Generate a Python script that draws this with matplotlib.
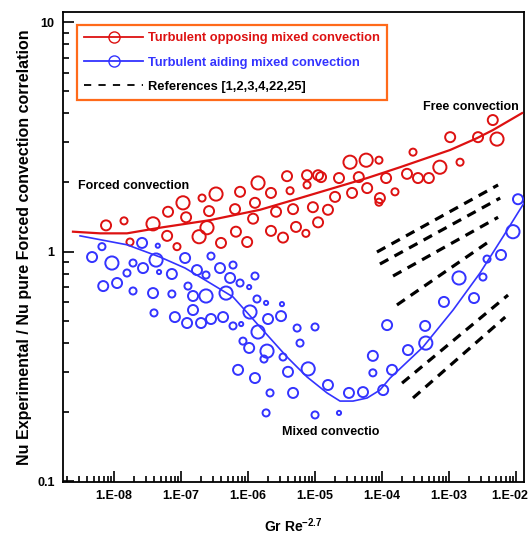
import numpy as np
import matplotlib
matplotlib.use("Agg")
import matplotlib.pyplot as plt
from matplotlib.lines import Line2D
from matplotlib.transforms import ScaledTranslation
from matplotlib.ticker import FixedLocator, FixedFormatter, LogLocator, NullFormatter

plt.rcParams['font.family'] = ['Liberation Sans', 'DejaVu Sans']
plt.rcParams['font.weight'] = 'bold'
plt.rcParams['mathtext.fontset'] = 'custom'
plt.rcParams['mathtext.rm'] = 'Liberation Sans:bold'
plt.rcParams['mathtext.bf'] = 'Liberation Sans:bold'
plt.rcParams['mathtext.default'] = 'bf'

# ---------------------------------------------
#  Turbulent opposing mixed convection (red)
# ---------------------------------------------
red_x = [7.6e-9, 1.41e-8, 1.73e-8, 3.82e-8, 6.4e-8, 6.2e-8, 8.7e-8, 1.07e-7, 1.19e-7, 2.06e-7,
         2.44e-7, 1.86e-7, 2.62e-7, 3.33e-7, 3.95e-7, 6.6e-7, 6.4e-7, 7.6e-7, 9.7e-7, 1.19e-6,
         1.27e-6, 1.41e-6, 2.2e-6, 2.2e-6, 2.62e-6, 3.33e-6, 3.82e-6, 4.24e-6, 4.7e-6, 5.2e-6,
         7.3e-6, 7.6e-6, 7.6e-6, 9.3e-6, 1.11e-5, 1.11e-5, 1.23e-5, 2.28e-5, 3.33e-5, 5.8e-5,
         9.0e-5, 4.5e-5, 6.0e-5, 3.57e-5, 1.15e-4, 2.36e-4, 3.44e-4, 5.0e-4, 7.3e-4, 2.9e-4,
         1.04e-3, 1.46e-3, 1.56e-4, 2.71e-3, 5.2e-3, 4.5e-3, 9.3e-5, 1.99e-5, 9.0e-5, 1.56e-5]
red_y = [1.30, 1.36, 1.10, 1.32, 1.49, 1.17, 1.05, 1.63, 1.41, 1.71,
         1.27, 1.16, 1.50, 1.78, 1.09, 1.22, 1.53, 1.82, 1.10, 1.39,
         1.63, 1.99, 1.23, 1.80, 1.49, 1.15, 2.13, 1.84, 1.53, 1.28,
         1.20, 2.15, 1.95, 1.56, 2.15, 1.34, 2.11, 2.09, 2.45, 2.50,
         2.50, 2.11, 1.89, 1.80, 2.09, 2.18, 2.09, 2.09, 2.33, 2.71,
         3.15, 2.45, 1.82, 3.15, 3.09, 3.74, 1.71, 1.73, 1.64, 1.52]
red_cls = [2, 1, 1, 3, 2, 2, 1, 3, 2, 1,
           3, 3, 2, 3, 2, 2, 2, 2, 2, 2,
           2, 3, 2, 2, 2, 2, 2, 1, 2, 2,
           1, 2, 1, 2, 2, 2, 2, 2, 3, 3,
           1, 2, 2, 2, 2, 2, 2, 2, 3, 1,
           2, 1, 1, 2, 3, 2, 2, 2, 1, 2]

red_fit_x = [2.44e-9, 6.2e-9, 1.56e-8, 4.86e-8, 2.71e-7, 1.51e-6, 5.97e-6, 6.0e-5,
             1.86e-4, 1.04e-3, 2.62e-3, 4.5e-3, 1.23e-2]
red_fit_y = [1.22, 1.20, 1.20, 1.27, 1.37, 1.52, 1.71, 2.09, 2.33, 2.77, 3.12, 3.38, 4.01]

# ---------------------------------------------
#  Turbulent aiding mixed convection (blue)
# ---------------------------------------------
blue_x = [4.7e-9, 6.6e-9, 6.9e-9, 9.3e-9, 1.11e-8, 1.56e-8, 1.92e-8, 1.92e-8, 2.62e-8, 2.71e-8,
          3.82e-8, 3.95e-8, 4.5e-8, 4.24e-8, 4.7e-8, 7.3e-8, 7.3e-8, 8.1e-8, 1.15e-7, 1.27e-7,
          1.23e-7, 1.51e-7, 1.51e-7, 1.73e-7, 1.99e-7, 2.36e-7, 2.36e-7, 2.8e-7, 2.8e-7, 3.82e-7,
          4.24e-7, 4.7e-7, 5.4e-7, 5.97e-7, 5.97e-7, 7.6e-7, 7.9e-7, 8.4e-7, 1.04e-6, 1.27e-6,
          1.36e-6, 1.07e-6, 1.04e-6, 1.41e-6, 1.86e-6, 1.73e-6, 1.99e-6, 1.92e-6, 7.1e-7, 1.27e-6,
          2.13e-6, 3.11e-6, 3.21e-6, 3.33e-6, 3.95e-6, 4.7e-6, 5.4e-6, 5.97e-6, 7.9e-6, 1.0e-5,
          1.86e-6, 1.0e-5, 2.28e-5, 1.56e-5, 3.21e-5, 5.2e-5, 1.04e-4, 1.19e-4, 2.44e-4, 4.4e-4,
          4.5e-4, 8.4e-4, 1.41e-3, 2.36e-3, 3.21e-3, 3.69e-3, 5.97e-3, 9.0e-3, 1.07e-2, 1.41e-4,
          7.3e-5, 7.3e-5]
blue_y = [0.946, 1.05, 0.707, 0.891, 0.729, 0.806, 0.891, 0.673, 1.09, 0.847,
          0.659, 0.540, 1.06, 0.918, 0.814, 0.798, 0.653, 0.518, 0.937, 0.707,
          0.488, 0.640, 0.556, 0.830, 0.488, 0.790, 0.640, 0.955, 0.508, 0.847,
          0.518, 0.659, 0.767, 0.873, 0.474, 0.729, 0.483, 0.407, 0.700, 0.782,
          0.621, 0.545, 0.380, 0.446, 0.597, 0.340, 0.508, 0.368, 0.305, 0.281,
          0.242, 0.523, 0.590, 0.347, 0.299, 0.242, 0.464, 0.399, 0.308, 0.469,
          0.198, 0.194, 0.198, 0.262, 0.242, 0.244, 0.249, 0.478, 0.372, 0.474,
          0.399, 0.603, 0.767, 0.627, 0.774, 0.927, 0.966, 1.22, 1.69, 0.305,
          0.351, 0.296]
blue_cls = [2, 1, 2, 3, 2, 1, 1, 1, 2, 2,
            2, 1, 0, 3, 0, 2, 1, 2, 2, 1,
            2, 2, 2, 2, 2, 1, 3, 1, 2, 2,
            2, 3, 2, 1, 1, 1, 0, 1, 0, 1,
            1, 3, 2, 3, 0, 1, 2, 3, 2, 2,
            1, 2, 0, 1, 2, 2, 1, 1, 3, 1,
            1, 1, 0, 2, 2, 2, 2, 2, 2, 2,
            3, 2, 3, 2, 1, 1, 2, 3, 2, 2,
            2, 1]

blue_fit_x = [3.11e-9, 1.56e-8, 4.86e-8, 1.15e-7, 2.71e-7, 5.97e-7, 1.51e-6, 3.82e-6, 7.6e-6,
              1.51e-5, 2.36e-5, 3.69e-5, 6.0e-5, 9.3e-5, 1.32e-4, 4.1e-4, 1.15e-3, 2.9e-3,
              6.4e-3, 1.32e-2]
blue_fit_y = [1.17, 1.07, 0.946, 0.847, 0.729, 0.634, 0.469, 0.347, 0.284, 0.242, 0.223,
              0.223, 0.230, 0.249, 0.281, 0.384, 0.556, 0.806, 1.16, 1.63]

# ---------------------------------------------
#  References [1,2,3,4,22,25] (dashed)
# ---------------------------------------------
ref_x0 = [8.4e-5, 9.3e-5, 1.46e-4, 1.67e-4, 1.99e-4, 2.9e-4]
ref_x1 = [5.4e-3, 5.8e-3, 5.4e-3, 3.69e-3, 7.6e-3, 6.9e-3]
ref_y0 = [0.995, 0.882, 0.782, 0.585, 0.267, 0.230]
ref_y1 = [1.95, 1.71, 1.41, 1.09, 0.646, 0.518]

x_ticks = [1e-8, 1e-7, 1e-6, 1e-5, 1e-4, 1e-3, 1e-2]
x_tick_labels = ['1.E-08', '1.E-07', '1.E-06', '1.E-05', '1.E-04', '1.E-03', '1.E-02']
y_ticks = [0.1, 1, 10]
y_tick_labels = ['0.1', '1', '10']

RED = '#DD1111'
BLUE = '#3333FF'
marker_area = {0: 9, 1: 26, 2: 52, 3: 90}

fig = plt.figure(figsize=(5.31, 5.40), dpi=100)
ax = fig.add_axes([0.1186, 0.1074, 0.8682, 0.8704])
ax.set_xscale('log')
ax.set_yscale('log')

ax.scatter(red_x, red_y, s=[marker_area[c] for c in red_cls], facecolors='none',
           edgecolors=RED, linewidths=1.4, zorder=3)
ax.scatter(blue_x, blue_y, s=[marker_area[c] for c in blue_cls], facecolors='none',
           edgecolors=BLUE, linewidths=1.4, zorder=3)
ax.plot(red_fit_x, red_fit_y, color=RED, linewidth=1.6, zorder=4)
ax.plot(blue_fit_x, blue_fit_y, color=BLUE, linewidth=1.2, zorder=4)

for x0, x1, y0, y1 in zip(ref_x0, ref_x1, ref_y0, ref_y1):
    ax.plot([x0, x1], [y0, y1], color='black', linewidth=2.3,
            linestyle=(0, (3, 2.2)), dash_capstyle='butt', zorder=2)

ax.text(2.9e-9, 1.93, 'Forced convection', fontsize=9, fontweight='bold', va='center')
ax.text(4.1e-4, 4.26, 'Free convection', fontsize=9, fontweight='bold', va='center')
ax.text(3.2e-6, 0.163, 'Mixed convectio', fontsize=9, fontweight='bold', va='center')

ax.set_xlim(1.73e-9, 1.315e-2)
ax.set_ylim(0.099, 11.06)

ax.xaxis.set_major_locator(FixedLocator(x_ticks))
ax.xaxis.set_major_formatter(FixedFormatter(x_tick_labels))
ax.xaxis.set_minor_locator(LogLocator(base=10, subs=np.arange(2, 10)))
ax.xaxis.set_minor_formatter(NullFormatter())
ax.yaxis.set_major_locator(FixedLocator(y_ticks))
ax.yaxis.set_major_formatter(FixedFormatter(y_tick_labels))
ax.yaxis.set_minor_locator(LogLocator(base=10, subs=np.arange(2, 10)))
ax.yaxis.set_minor_formatter(NullFormatter())

ax.tick_params(which='both', direction='in', top=False, right=False, width=1.2)
ax.tick_params(which='major', length=8, labelsize=9, pad=6)
ax.tick_params(which='minor', length=4)
for lab in ax.get_xticklabels() + ax.get_yticklabels():
    lab.set_fontweight('bold')
for sp in ax.spines.values():
    sp.set_linewidth(1.3)

# nudge the last x label so it stays inside the figure
last_lab = ax.xaxis.get_major_ticks()[-1].label1
last_lab.set_transform(last_lab.get_transform()
                       + ScaledTranslation(-6 / 100, 0, fig.dpi_scale_trans))

ax.set_xlabel('Gr Re$^{-2.7}$', fontsize=10, fontweight='bold', labelpad=10)
ax.set_ylabel('Nu Experimental / Nu pure Forced convection correlation',
              fontsize=11.5, fontweight='bold', labelpad=4)

handles = [
    Line2D([], [], color=RED, linewidth=1.3, marker='o', markersize=8,
           markerfacecolor='none', markeredgecolor=RED),
    Line2D([], [], color=BLUE, linewidth=1.3, marker='o', markersize=8,
           markerfacecolor='none', markeredgecolor=BLUE),
    Line2D([], [], color='black', linewidth=1.3, linestyle=(0, (4, 4))),
]
labels = ['Turbulent opposing mixed convection', 'Turbulent aiding mixed convection',
          'References [1,2,3,4,22,25]']
leg = ax.legend(handles, labels, loc='upper left', bbox_to_anchor=(0.03, 0.972),
                borderaxespad=0, handlelength=4.6, handletextpad=0.4, labelspacing=0.95,
                borderpad=0.55, numpoints=1, fancybox=False, framealpha=1,
                labelcolor='linecolor', prop={'weight': 'bold', 'size': 9.3})
leg.get_frame().set_edgecolor('#FF6A1A')
leg.get_frame().set_linewidth(1.6)

fig.savefig('out.png', dpi=100)
